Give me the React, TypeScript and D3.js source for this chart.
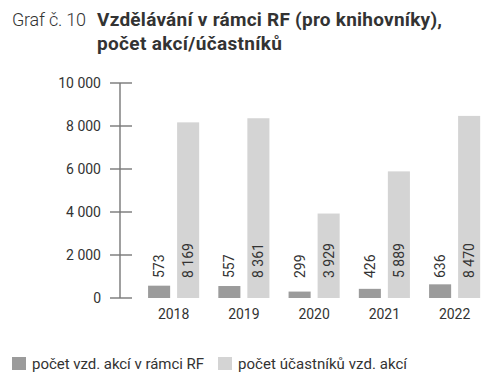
import { useEffect, useRef } from 'react';
import * as d3 from 'd3';

const years = ['2018', '2019', '2020', '2021', '2022'];
const events = [573, 557, 299, 426, 636];
const participants = [8169, 8361, 3929, 5889, 8470];
const series = ['počet vzd. akcí v rámci RF', 'počet účastníků vzd. akcí'];
const colors = ['#9b9b9b', '#d4d4d4'];
const yTicks = [0, 2000, 4000, 6000, 8000, 10000];

const fmt = (v: number) => d3.format(',')(v).replace(/,/g, ' ');

const App = () => {
  const svgRef = useRef<SVGSVGElement>(null);

  useEffect(() => {
    if (!svgRef.current) return;
    const svg = d3.select(svgRef.current);
    svg.selectAll('*').remove();

    const font = 'Roboto';
    const textColor = '#333';

    // title
    const title = svg.append('text').attr('font-family', font).attr('fill', textColor);
    title
      .append('tspan')
      .attr('x', 12)
      .attr('y', 26)
      .attr('font-size', 18)
      .attr('font-weight', 300)
      .attr('textLength', 74)
      .text('Graf č. 10');
    title
      .append('tspan')
      .attr('x', 97)
      .attr('y', 26)
      .attr('font-size', 19)
      .attr('font-weight', 700)
      .attr('textLength', 345)
      .text('Vzdělávání v rámci RF (pro knihovníky),');
    title
      .append('tspan')
      .attr('x', 97)
      .attr('y', 50)
      .attr('font-size', 19)
      .attr('font-weight', 700)
      .attr('textLength', 185)
      .text('počet akcí/účastníků');

    const y = d3.scaleLinear().domain([0, 10000]).range([298, 83]);
    const x = d3.scaleBand().domain(years).range([138.5, 489.75]).padding(0);
    const xs = d3
      .scaleBand()
      .domain(series)
      .range([0, x.bandwidth()])
      .paddingInner(0.24)
      .paddingOuter(0.33);

    // y axis
    const axis = svg.append('g');
    axis
      .append('line')
      .attr('x1', 120)
      .attr('x2', 120)
      .attr('y1', y(10000))
      .attr('y2', y(0))
      .attr('stroke', '#777')
      .attr('stroke-width', 1.4);
    axis
      .selectAll('.tick')
      .data(yTicks)
      .enter()
      .append('line')
      .attr('x1', 110)
      .attr('x2', 132)
      .attr('y1', (d) => y(d))
      .attr('y2', (d) => y(d))
      .attr('stroke', '#777')
      .attr('stroke-width', 1.4);
    axis
      .selectAll('.lbl')
      .data(yTicks)
      .enter()
      .append('text')
      .attr('x', 101)
      .attr('y', (d) => y(d))
      .attr('dy', '0.35em')
      .attr('text-anchor', 'end')
      .attr('font-family', font)
      .attr('font-size', 14)
      .attr('fill', textColor)
      .text((d) => fmt(d));

    const groups = years.map((yr, i) => ({ yr, vals: [events[i], participants[i]] }));

    const g = svg
      .selectAll('.grp')
      .data(groups)
      .enter()
      .append('g')
      .attr('transform', (d) => `translate(${x(d.yr)},0)`);

    g.selectAll('rect')
      .data((d) => d.vals.map((v, j) => ({ v, s: series[j], c: colors[j] })))
      .enter()
      .append('rect')
      .attr('x', (d) => xs(d.s)!)
      .attr('width', xs.bandwidth())
      .attr('y', (d) => y(d.v))
      .attr('height', (d) => y(0) - y(d.v))
      .attr('fill', (d) => d.c);

    g.selectAll('.val')
      .data((d) => d.vals.map((v, j) => ({ v, s: series[j] })))
      .enter()
      .append('text')
      .attr(
        'transform',
        (d) => `translate(${xs(d.s)! + xs.bandwidth() / 2},278) rotate(-90)`
      )
      .attr('dy', '0.35em')
      .attr('font-family', font)
      .attr('font-size', 14)
      .attr('fill', textColor)
      .text((d) => fmt(d.v));

    g.append('text')
      .attr('x', x.bandwidth() / 2)
      .attr('y', 319)
      .attr('text-anchor', 'middle')
      .attr('font-family', font)
      .attr('font-size', 14)
      .attr('fill', textColor)
      .text((d) => d.yr);

    // legend
    const legX = [12, 218];
    const legLen = [172, 169];
    series.forEach((s, i) => {
      svg
        .append('rect')
        .attr('x', legX[i])
        .attr('y', 357)
        .attr('width', 14)
        .attr('height', 13)
        .attr('fill', colors[i]);
      svg
        .append('text')
        .attr('x', legX[i] + 20)
        .attr('y', 369)
        .attr('font-family', font)
        .attr('font-size', 15)
        .attr('textLength', legLen[i])
        .attr('fill', textColor)
        .text(s);
    });
  }, []);

  return (
    <svg
      ref={svgRef}
      width={502}
      height={387}
      style={{ position: 'absolute', left: 0, top: 0, background: '#fff' }}
    ></svg>
  );
};

export default App;
